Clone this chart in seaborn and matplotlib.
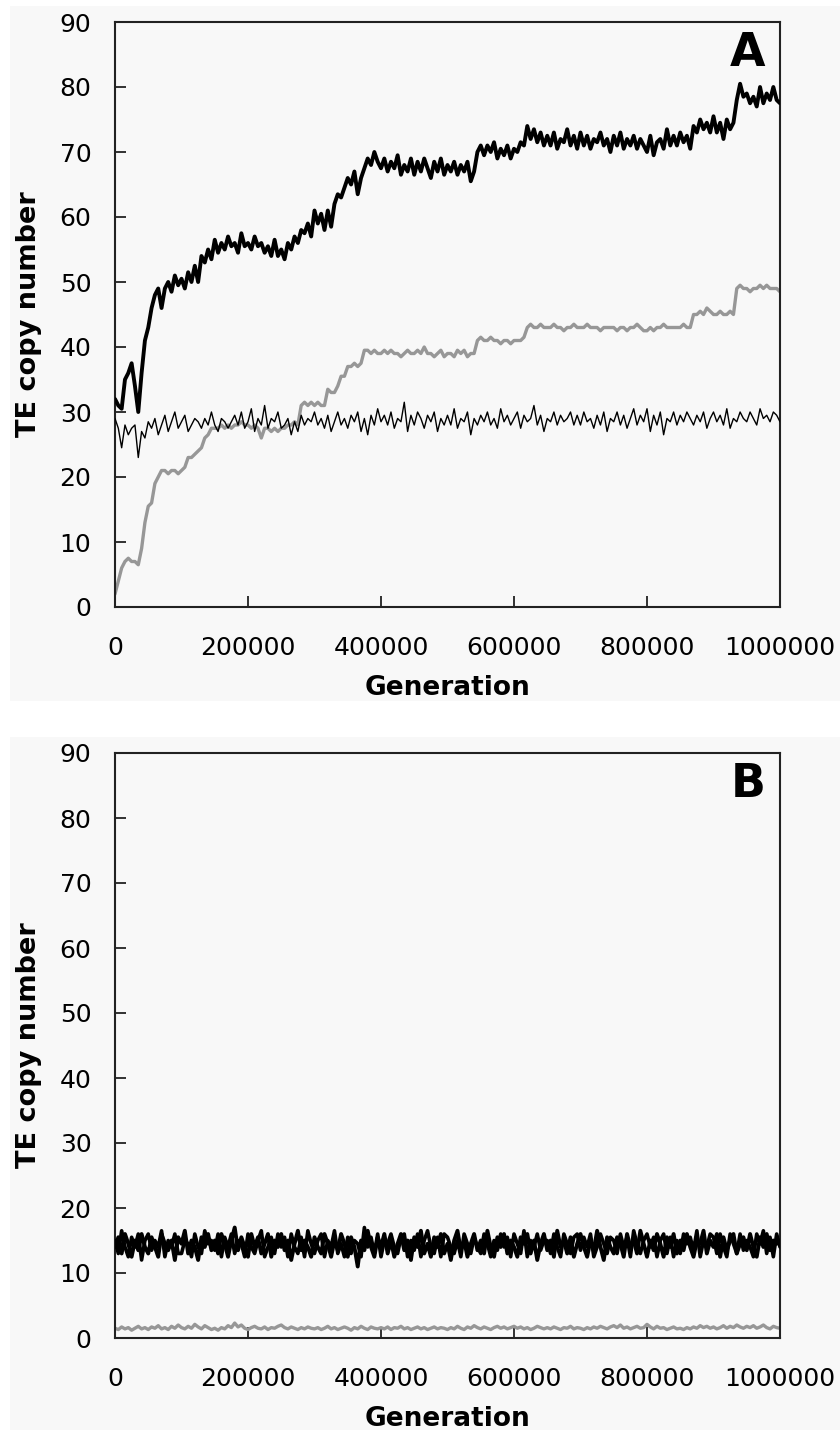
import numpy as np
import pandas as pd
import matplotlib
matplotlib.use("Agg")
import matplotlib.pyplot as plt
from matplotlib.patches import Rectangle
import seaborn as sns

# ---------------- data (generation step 5000, 0 .. 1,000,000) ----------------
generations = np.arange(0, 1000001, 5000)

# Panel A
thick_a = [
    32, 31, 30.5, 35, 36, 37.5, 34, 30, 36, 41,
    43, 46, 48, 49, 46, 49, 50, 48.5, 51, 49.5,
    50.5, 49, 51.5, 50, 52.5, 50, 54, 53, 55, 53.5,
    56.5, 54.5, 56, 55, 57, 55.5, 56, 54.5, 57.5, 55.5,
    56, 55, 57, 55.5, 56, 54.5, 55.5, 54, 56.5, 54,
    55, 53.5, 56, 55, 57, 56, 58, 57.5, 59, 57,
    61, 59, 60.5, 58, 61, 58.5, 62, 63.5, 63, 64.5,
    66, 65, 67, 63.5, 66, 67.5, 69, 68, 70, 68.5,
    67.5, 69, 67, 68.5, 67.5, 69.5, 66.5, 68, 67, 69,
    66.5, 68.5, 67, 69, 67.5, 66, 68.5, 67, 69, 66.5,
    68, 67, 68.5, 66.5, 68, 67, 68.5, 65.5, 67, 70,
    71, 69.5, 71, 70, 71.5, 69, 70.5, 69.5, 71, 69,
    70.5, 70, 71.5, 71, 74, 72, 73.5, 71.5, 73, 71,
    72.5, 71, 73, 70.5, 72, 71.5, 73.5, 71, 72.5, 70.5,
    73, 71, 72.5, 70.5, 72, 71.5, 73, 71, 72, 70,
    72.5, 71, 73, 70.5, 72, 71, 72.5, 70.5, 72, 71,
    70, 72.5, 69.5, 71.5, 72, 70.5, 73.5, 71, 72.5, 71,
    73, 71.5, 72.5, 70.5, 74, 73, 75, 73.5, 74.5, 73,
    75.5, 73, 74.5, 72, 75, 73.5, 74.5, 78, 80.5, 78.5,
    79, 77.5, 78.5, 77, 80, 77.5, 79, 78, 80, 78,
    77.5,
]

gray_a = [
    2, 4, 6, 7, 7.5, 7, 7, 6.5, 9, 13,
    15.5, 16, 19, 20, 21, 21, 20.5, 21, 21, 20.5,
    21, 21.5, 23, 23, 23.5, 24, 24.5, 26, 26.5, 27.5,
    27.5, 27.5, 28, 27.5, 28, 27.5, 28, 28, 28.5, 28,
    28, 27.5, 28, 27.5, 26, 27.5, 27.5, 27, 27.5, 27,
    27.5, 27.5, 28, 28, 28.5, 28, 31, 31.5, 31, 31.5,
    31, 31.5, 31, 31, 33.5, 33, 33, 34, 35.5, 35.5,
    37, 37, 37.5, 37, 37.5, 39.5, 39.5, 39, 39.5, 39,
    39, 39.5, 39, 39.5, 39, 39, 38.5, 39, 39.5, 39,
    39, 39.5, 39, 40, 39, 39, 38.5, 39, 39.5, 38.5,
    39, 39, 38.5, 39.5, 39, 39.5, 38.5, 39, 39, 41,
    41.5, 41, 41, 41.5, 41, 41, 40.5, 41, 41, 40.5,
    41, 41, 41, 41.5, 43, 43.5, 43, 43, 43.5, 43,
    43, 43, 43.5, 43, 43, 42.5, 43, 43, 43.5, 43,
    43, 43, 43.5, 43, 43, 43, 42.5, 43, 43, 43,
    43, 42.5, 43, 43, 42.5, 43, 43, 43.5, 43, 42.5,
    42.5, 43, 42.5, 43, 43, 43.5, 43, 43, 43, 43,
    43, 43.5, 43, 43, 45, 45, 45.5, 45, 46, 45.5,
    45, 45, 45.5, 45, 45, 45.5, 45, 49, 49.5, 49,
    49, 48.5, 49, 49, 49.5, 49, 49.5, 49, 49, 49,
    48.5,
]

thin_a = [
    29, 27.5, 24.5, 28, 26.5, 27.5, 28, 23, 27, 26,
    28.5, 27.5, 29, 26.5, 28, 29.5, 27, 28.5, 30, 27.5,
    28.5, 29.5, 27, 28, 29, 28.5, 27.5, 29, 28, 30,
    28, 27, 29, 28.5, 27.5, 28.5, 29.5, 28, 30, 27.5,
    28.5, 30.5, 27, 29, 28, 31, 27.5, 29, 28.5, 30,
    27.5, 28, 29, 26.5, 28.5, 27, 29.5, 28, 29, 28.5,
    30, 28, 29, 27.5, 29.5, 27, 28.5, 30, 28, 29,
    27.5, 29.5, 28.5, 30, 27, 29, 26.5, 29.5, 28, 30.5,
    28.5, 29.5, 28, 30, 27.5, 29, 28.5, 31.5, 27, 29.5,
    28, 30, 29, 27.5, 29.5, 28.5, 30, 27, 29, 28,
    29.5, 28, 30.5, 27.5, 29, 28.5, 30, 26.5, 29, 28,
    29.5, 28.5, 30, 28, 29, 27.5, 30.5, 28.5, 29.5, 28,
    29, 30, 27.5, 29.5, 28.5, 29, 31, 28, 29.5, 27,
    29, 28.5, 30, 28, 29.5, 28.5, 29, 30, 28, 29.5,
    28, 30, 28.5, 29, 27.5, 29.5, 28, 30, 27, 29,
    28.5, 30, 28, 29.5, 27.5, 29, 30.5, 28, 29.5, 28.5,
    30.5, 27, 29.5, 28, 30, 26.5, 29, 28.5, 30, 28,
    29.5, 28.5, 30, 29, 28, 29.5, 28.5, 30, 27.5, 29,
    30, 28.5, 29.5, 28, 30.5, 27.5, 29, 28.5, 30, 29,
    28.5, 30, 29, 28, 30.5, 29, 29.5, 28.5, 30, 29.5,
    28.5,
]

# Panel B
thick_b = [
    14, 15.5, 13, 16, 14.5, 12.5, 15, 13.5, 16, 14,
    13, 15.5, 14, 12.5, 16, 14.5, 13.5, 15, 12, 15.5,
    14.5, 16.5, 13, 15, 14, 12, 15.5, 14, 16, 13.5,
    15, 13, 16, 14.5, 12.5, 15, 17, 13.5, 15.5, 14,
    12.5, 16, 14, 15.5, 13, 14.5, 16, 12.5, 15, 14,
    16, 13.5, 15, 12, 14.5, 16.5, 13.5, 15, 14, 12.5,
    15.5, 14, 13, 16, 14.5, 12.5, 15, 13.5, 16, 14.5,
    12.5, 15.5, 14, 11, 15, 13.5, 16.5, 14, 12.5, 15.5,
    14, 16, 13, 15, 12.5, 14.5, 16, 13.5, 15, 12,
    15.5, 14, 16.5, 13, 14.5, 12.5, 15.5, 14, 16, 13,
    14.5, 12, 15, 16.5, 13.5, 15, 12.5, 14.5, 16, 13.5,
    15, 13, 16.5, 14, 12.5, 15.5, 14, 16, 13, 15,
    14, 12.5, 15.5, 14.5, 16, 13, 15, 12, 14.5, 16,
    13.5, 15, 12.5, 16.5, 14, 15, 13, 15.5, 12.5, 14.5,
    16, 14, 12.5, 15, 13.5, 16.5, 14, 12, 15.5, 14,
    13, 15.5, 14.5, 12.5, 16, 14, 15, 13, 16.5, 14.5,
    12.5, 15, 13.5, 16, 14.5, 12.5, 15.5, 14, 16, 13,
    15, 13.5, 16, 14, 12.5, 15, 14.5, 16.5, 13, 15,
    14, 16, 12.5, 15.5, 13.5, 15, 16, 13, 14.5, 15.5,
    13.5, 16, 14, 12.5, 15.5, 14, 16, 13.5, 15, 14.5,
    15,
]

thin_b = [
    15, 13, 16.5, 14, 12.5, 15.5, 14, 16, 12, 15,
    16, 13.5, 15, 14, 16.5, 12.5, 15, 14, 16, 13,
    13, 15, 14.5, 12.5, 16, 14, 13, 16.5, 14.5, 15,
    13.5, 16, 12.5, 15.5, 14, 16, 13, 15, 14.5, 12.5,
    16, 14, 13, 15, 16.5, 12.5, 14, 15.5, 13, 16,
    14, 15.5, 12.5, 16, 14, 13, 15.5, 12.5, 16.5, 14.5,
    13, 15, 16, 12.5, 15, 14, 16.5, 13, 14.5, 12.5,
    15.5, 13, 15, 14.5, 12.5, 17, 14, 15.5, 13, 16,
    12.5, 15, 14.5, 16, 14, 13, 15.5, 16, 12.5, 15,
    13.5, 16, 12.5, 15, 16.5, 14, 13, 15.5, 12.5, 16,
    15.5, 14, 13, 15, 12.5, 16, 14.5, 13, 15.5, 14,
    13, 16, 14.5, 12.5, 15, 13.5, 16, 14, 15.5, 12.5,
    16, 14.5, 13, 16.5, 12.5, 15, 14, 16, 13.5, 15,
    15, 13, 16, 14, 12.5, 16, 14.5, 13, 15.5, 16,
    13.5, 15.5, 14, 16, 12.5, 14, 16, 14.5, 13, 15.5,
    15, 13, 16, 14, 15.5, 12.5, 16.5, 14.5, 13, 15,
    16, 14, 15.5, 12.5, 15, 16, 13, 15.5, 12.5, 15,
    13, 16, 14.5, 15.5, 13.5, 16.5, 12.5, 15, 14, 16,
    15.5, 13, 16, 14, 12.5, 16, 14.5, 13, 16, 13.5,
    15, 14, 12.5, 16, 14.5, 16.5, 13, 15.5, 12.5, 16,
    14,
]

gray_b = [
    1.5, 1.3, 1.7, 1.4, 1.6, 1.2, 1.5, 1.8, 1.4, 1.6,
    1.3, 1.7, 1.5, 1.9, 1.4, 1.6, 1.3, 1.8, 1.5, 2.0,
    1.6, 1.4, 1.8, 1.5, 2.1, 1.7, 1.4, 1.9, 1.6, 1.3,
    1.5, 1.2, 1.6, 1.4, 1.9, 1.6, 2.3, 1.7, 2.0, 1.5,
    1.3, 1.6, 1.8, 1.5, 1.4, 1.7, 1.3, 1.6, 1.5, 1.8,
    2.0, 1.6, 1.4, 1.7, 1.5, 1.3, 1.6, 1.4, 1.7, 1.5,
    1.4, 1.6, 1.3, 1.5, 1.8, 1.4, 1.6, 1.3, 1.5, 1.7,
    1.5, 1.2, 1.6, 1.4, 1.8, 1.5, 1.3, 1.7, 1.5, 1.4,
    1.6, 1.4, 1.7, 1.3, 1.6, 1.5, 1.8, 1.4, 1.6, 1.3,
    1.5, 1.7, 1.4, 1.6, 1.3, 1.5, 1.7, 1.4, 1.6, 1.5,
    1.3, 1.6, 1.4, 1.8, 1.5, 1.3, 1.7, 1.5, 1.9, 1.6,
    1.4, 1.7, 1.5, 1.3, 1.6, 1.8, 1.5, 1.7, 1.4, 1.6,
    1.8, 1.5, 1.7, 1.4, 1.6, 1.3, 1.5, 1.8, 1.6, 1.4,
    1.6, 1.4, 1.7, 1.5, 1.3, 1.6, 1.5, 1.8, 1.4, 1.6,
    1.5, 1.3, 1.6, 1.4, 1.7, 1.5, 1.8, 1.6, 1.4, 1.7,
    1.9, 1.6, 2.0, 1.5, 1.7, 1.4, 1.6, 1.8, 1.5, 1.6,
    2.1, 1.7, 1.4, 1.8, 1.5, 1.6, 1.3, 1.5, 1.7, 1.4,
    1.5, 1.3, 1.6, 1.4, 1.7, 1.5, 1.9, 1.6, 1.8, 1.5,
    1.7, 1.4, 1.6, 1.9, 1.5, 1.8, 1.6, 2.0, 1.7, 1.5,
    1.8, 1.6, 1.9, 1.5, 1.7, 2.0, 1.6, 1.4, 1.8, 1.6,
    1.5,
]

x_ticks = [0, 200000, 400000, 600000, 800000, 1000000]
x_tick_labels = ["0", "200000", "400000", "600000", "800000", "1000000"]
y_ticks = [0, 10, 20, 30, 40, 50, 60, 70, 80, 90]
panel_labels = ["A", "B"]
x_label = "Generation"
y_label = "TE copy number"

# ---------------- styling ----------------
sns.set_style("ticks")
plt.rcParams["font.family"] = ["DejaVu Sans"]

BG = "#f8f8f8"
GRAY = "#979797"
W, H = 840, 1430

fig = plt.figure(figsize=(W / 100, H / 100), dpi=100, facecolor="white")

# light grey panel backgrounds
fig.add_artist(Rectangle((10 / W, 1 - 701 / H), 830 / W, 695 / H,
                         transform=fig.transFigure, facecolor=BG,
                         edgecolor="none", zorder=0))
fig.add_artist(Rectangle((10 / W, 0), 830 / W, (H - 737) / H,
                         transform=fig.transFigure, facecolor=BG,
                         edgecolor="none", zorder=0))

ax_left = 115 / W
ax_w = 665 / W
ax_h = 585 / H
axA = fig.add_axes([ax_left, 1 - 607 / H, ax_w, ax_h])
axB = fig.add_axes([ax_left, 1 - 1338 / H, ax_w, ax_h])

dfA = pd.DataFrame({"gen": generations, "thick": thick_a, "gray": gray_a, "thin": thin_a})
dfB = pd.DataFrame({"gen": generations, "thick": thick_b, "gray": gray_b, "thin": thin_b})

styles = {
    "A": dict(gray=2.4, thin=1.0, thick=2.8),
    "B": dict(gray=2.4, thin=2.6, thick=2.8),
}

for ax, df, lab in [(axA, dfA, panel_labels[0]), (axB, dfB, panel_labels[1])]:
    st = styles[lab]
    ax.set_facecolor(BG)
    sns.lineplot(data=df, x="gen", y="gray", ax=ax, color=GRAY, lw=st["gray"], zorder=2)
    sns.lineplot(data=df, x="gen", y="thin", ax=ax, color="black", lw=st["thin"], zorder=3)
    sns.lineplot(data=df, x="gen", y="thick", ax=ax, color="black", lw=st["thick"], zorder=4)

    ax.set_xlim(0, 1000000)
    ax.set_ylim(0, 90)
    ax.set_xticks(x_ticks)
    ax.set_xticklabels(x_tick_labels)
    ax.set_yticks(y_ticks)
    ax.tick_params(axis="both", direction="in", length=8, width=1.3,
                   color="#222222", labelsize=18, labelcolor="black")
    ax.tick_params(axis="x", pad=21)
    ax.tick_params(axis="y", pad=17)
    for side in ["left", "bottom", "top", "right"]:
        ax.spines[side].set_visible(True)
        ax.spines[side].set_color("#222222")
        ax.spines[side].set_linewidth(1.5)

    ax.set_xlabel(x_label, fontsize=19, fontweight="bold", color="black")
    ax.set_ylabel(y_label, fontsize=19.5, fontweight="bold", color="black")
    ax.xaxis.set_label_coords(0.5, -0.117)
    ax.yaxis.set_label_coords(-0.11, 0.5)

    ax.text(0.978, 0.985, lab, transform=ax.transAxes, ha="right", va="top",
            fontsize=33, fontweight="bold", color="black")

fig.savefig("out.png", dpi=100, facecolor="white")
